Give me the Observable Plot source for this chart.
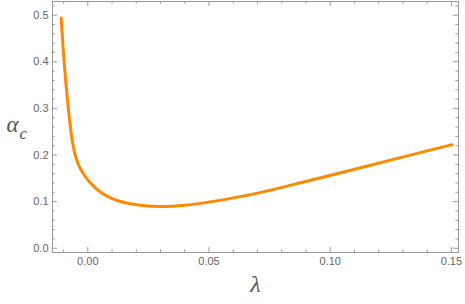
<!DOCTYPE html>
<html>
<head>
<meta charset="utf-8">
<script src="https://cdn.jsdelivr.net/npm/d3@7"></script>
<script src="https://cdn.jsdelivr.net/npm/@observablehq/plot@0.6"></script>
<style>
  html, body { margin: 0; padding: 0; background: #fff; }
</style>
</head>
<body>
<div id="chart"></div>
<script>
const lambda = [-0.01097, -0.01040, -0.00980, -0.00900, -0.00830, -0.00760, -0.00700, -0.00640, -0.00570, -0.00500, -0.00400, -0.00301, -0.00136, 0.00083, 0.00318, 0.00594, 0.00937, 0.0135, 0.0176, 0.0217, 0.0290, 0.0382, 0.0465, 0.0672, 0.0878, 0.1084, 0.1290, 0.1503];
const alphaC = [0.494, 0.4475, 0.4025, 0.3529, 0.3137, 0.2787, 0.2523, 0.2307, 0.2111, 0.1964, 0.1814, 0.1704, 0.156, 0.1416, 0.1296, 0.1180, 0.1080, 0.1002, 0.0953, 0.0923, 0.0893, 0.0916, 0.0962, 0.1150, 0.1405, 0.1672, 0.1943, 0.2222];

const xMajor = [0, 0.05, 0.10, 0.15];
const xMinor = [-0.01, 0.01, 0.02, 0.03, 0.04, 0.06, 0.07, 0.08, 0.09, 0.11, 0.12, 0.13, 0.14];
const yMajor = [0, 0.1, 0.2, 0.3, 0.4, 0.5];
const yMinor = [0.02, 0.04, 0.06, 0.08, 0.12, 0.14, 0.16, 0.18, 0.22, 0.24, 0.26, 0.28, 0.32, 0.34, 0.36, 0.38, 0.42, 0.44, 0.46, 0.48, 0.52];

const data = lambda.map((l, i) => ({l, a: alphaC[i]}));

const W = 465, H = 304;
const mL = 52, mR = 7, mT = 1, mB = 52;
const pw = W - mL - mR, ph = H - mT - mB;
const gray = "#9a9a9a";
const major = 5, minor = 2.7;

const chart = Plot.plot({
  width: W, height: H,
  marginLeft: mL, marginRight: mR, marginTop: mT, marginBottom: mB,
  style: {fontFamily: "Liberation Sans, Arial, sans-serif", fontSize: "11px", color: "#666", background: "#fff"},
  x: {domain: [-0.01456, 0.15293]},
  y: {domain: [-0.0092, 0.5294]},
  marks: [
    Plot.frame({stroke: gray}),
    Plot.tickX(xMajor, {x: d => d, stroke: gray, insetTop: ph - major}),
    Plot.tickX(xMinor, {x: d => d, stroke: gray, insetTop: ph - minor}),
    Plot.tickX(xMajor, {x: d => d, stroke: gray, insetBottom: ph - major}),
    Plot.tickX(xMinor, {x: d => d, stroke: gray, insetBottom: ph - minor}),
    Plot.tickY(yMajor, {y: d => d, stroke: gray, insetRight: pw - major}),
    Plot.tickY(yMinor, {y: d => d, stroke: gray, insetRight: pw - minor}),
    Plot.tickY(yMajor, {y: d => d, stroke: gray, insetLeft: pw - major}),
    Plot.tickY(yMinor, {y: d => d, stroke: gray, insetLeft: pw - minor}),
    Plot.axisX({ticks: xMajor, tickFormat: d3.format(".2f"), tickSize: 0, tickPadding: 5, label: null, fill: "#666"}),
    Plot.axisY({ticks: yMajor, tickFormat: d3.format(".1f"), tickSize: 0, tickPadding: 4, label: null, fill: "#666"}),
    Plot.line(data, {x: "l", y: "a", stroke: "#ff8800", strokeWidth: 3, curve: "natural"}),
    Plot.text(["α"], {frameAnchor: "left", dx: -46, dy: -2, fontFamily: "Liberation Serif, serif", fontStyle: "italic", fontSize: 23, fill: "#555"}),
    Plot.text(["c"], {frameAnchor: "left", dx: -33, dy: 7, fontFamily: "Liberation Serif, serif", fontStyle: "italic", fontSize: 17, fill: "#555"}),
    Plot.text(["λ"], {frameAnchor: "bottom", dy: 39, fontFamily: "Liberation Serif, serif", fontStyle: "italic", fontSize: 24, fill: "#555"})
  ]
});
document.getElementById("chart").appendChild(chart);
</script>
</body>
</html>
